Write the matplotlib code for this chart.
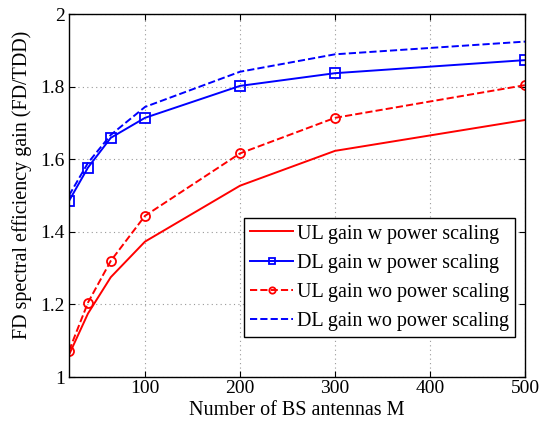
import matplotlib
matplotlib.use("Agg")
import matplotlib.pyplot as plt

plt.rcParams['font.family'] = ['Liberation Serif', 'DejaVu Serif']
plt.rcParams['mathtext.fontset'] = 'stix'

M = [20, 40, 64, 100, 200, 300, 500]
ul_w = [1.061, 1.175, 1.275, 1.373, 1.527, 1.623, 1.708]
dl_w = [1.485, 1.577, 1.659, 1.714, 1.802, 1.837, 1.873]
ul_wo = [1.072, 1.205, 1.320, 1.444, 1.616, 1.714, 1.804]
dl_wo = [1.500, 1.590, 1.667, 1.744, 1.841, 1.889, 1.924]

xticks = [100, 200, 300, 400, 500]
yticks = [1, 1.2, 1.4, 1.6, 1.8, 2]
ytick_labels = ['1', '1.2', '1.4', '1.6', '1.8', '2']

fig = plt.figure(figsize=(5.51, 4.21), dpi=100)
ax = fig.add_axes([0.1252, 0.1045, 0.8276, 0.8622])

ax.plot(M, ul_w, '-', color='red', lw=1.4, label='UL gain w power scaling')
ax.plot(M, dl_w, '-', color='blue', lw=1.4, marker='s', ms=6.5,
        mfc='none', mew=1.3, label='DL gain w power scaling')
ax.plot(M, ul_wo, '--', color='red', lw=1.4, marker='o', ms=6.5,
        mfc='none', mew=1.3, label='UL gain wo power scaling')
ax.plot(M, dl_wo, '--', color='blue', lw=1.4, label='DL gain wo power scaling')

ax.set_xlim(20, 500)
ax.set_ylim(1, 2)
ax.set_xticks(xticks)
ax.set_yticks(yticks)
ax.set_yticklabels(ytick_labels)
ax.tick_params(direction='in', top=True, right=True, labelsize=14, length=4,
               pad=3)
ax.tick_params(axis='x', pad=2)
ax.grid(True, linestyle=(0, (1, 3)), color='#999999', linewidth=0.8)
for s in ax.spines.values():
    s.set_linewidth(1.0)

ax.set_xlabel('Number of BS antennas M', fontsize=14.5)
ax.xaxis.set_label_coords(0.5, -0.065)
ax.set_ylabel('FD spectral efficiency gain (FD/TDD)', fontsize=14.5)
ax.yaxis.set_label_coords(-0.082, 0.53)

leg = ax.legend(loc='lower right', bbox_to_anchor=(0.978, 0.11), fontsize=14.5,
                fancybox=False, edgecolor='black', framealpha=1,
                handlelength=2.1, handletextpad=0.2, borderpad=0.3,
                labelspacing=0.5, borderaxespad=0, markerscale=0.7)
leg.get_frame().set_linewidth(1.0)

fig.savefig('out.png', dpi=100)
